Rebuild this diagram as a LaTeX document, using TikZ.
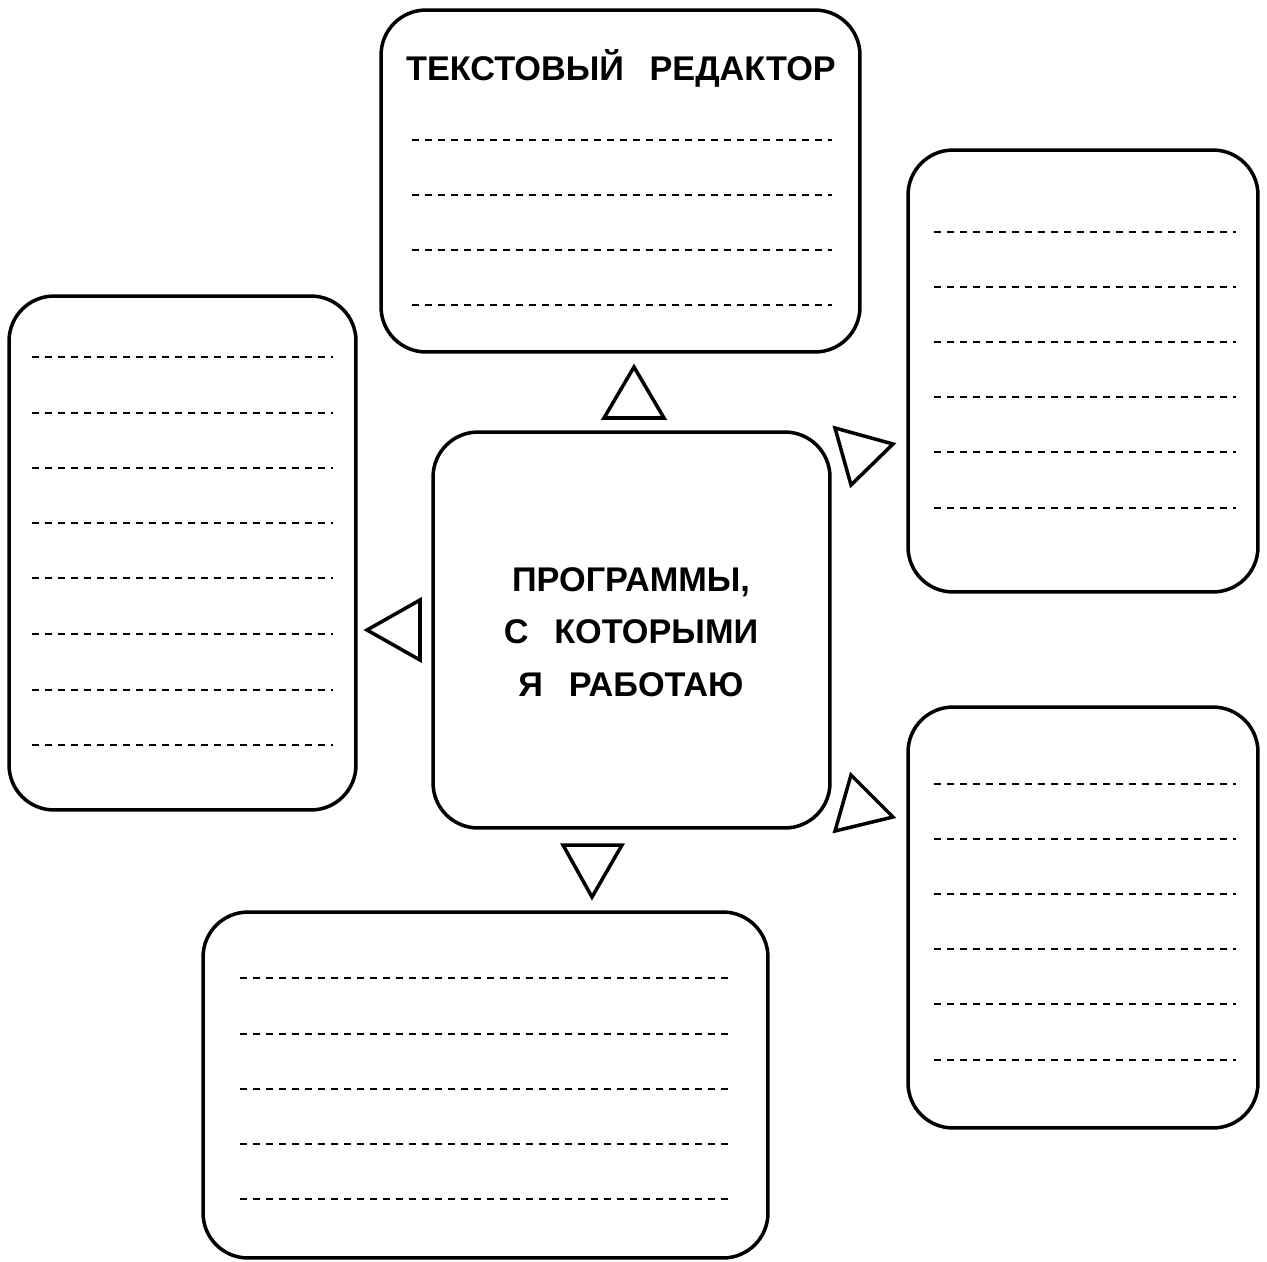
\documentclass[tikz,border=0pt]{standalone}
\usepackage{fontspec}
\setmainfont{Liberation Sans}
\usetikzlibrary{positioning}

\tikzset{
  card/.style={draw,line width=2pt,rounded corners=0.9cm,inner sep=0pt},
  ruled/.style={line width=1.3pt,dash pattern=on 4.2pt off 3.2pt},
  pointer/.style={draw,line width=2pt,line join=miter},
  caption/.style={font=\fontsize{19.5}{30}\selectfont\bfseries,align=center,inner sep=0pt}
}
\newcommand{\wgap}{\hspace{0.75em}}

\begin{document}
\begin{tikzpicture}[x=0.02cm,y=-0.02cm]
  \useasboundingbox (0,0) rectangle (1267,1261);
  % boxes
  \node[card,minimum width=9.58cm,minimum height=6.84cm] (editor) at (620.5,181) {};
  \node[card,minimum width=7.94cm,minimum height=7.92cm] (hub) at (631.5,630) {};
  \node[card,minimum width=7.0cm,minimum height=8.84cm] (upright) at (1083,371) {};
  \node[card,minimum width=7.0cm,minimum height=8.42cm] (lowright) at (1083,917.5) {};
  \node[card,minimum width=6.94cm,minimum height=10.28cm] (left) at (182.5,553) {};
  \node[card,minimum width=11.3cm,minimum height=6.92cm] (bottom) at (485.5,1085) {};
  % texts
  \node[caption,anchor=base] (editortitle) at (621,80) {ТЕКСТОВЫЙ\wgap РЕДАКТОР};
  \node[caption] (hubtitle) at (631,632) {ПРОГРАММЫ,\\С\wgap КОТОРЫМИ\\Я\wgap РАБОТАЮ};
  % lines to fill in
  \foreach \y in {140,195,250,305}
    \draw[ruled] (412,\y) -- (832,\y);
  \foreach \y in {232,287,342,397,452,508}
    \draw[ruled] (934,\y) -- (1236,\y);
  \foreach \y in {784,839,894,949,1004,1060}
    \draw[ruled] (934,\y) -- (1236,\y);
  \foreach \y in {357,413,468,523,578,634,690,745}
    \draw[ruled] (32,\y) -- (333,\y);
  \foreach \y in {978,1034,1089,1144,1199}
    \draw[ruled] (240,\y) -- (730,\y);
  % triangles
  \draw[pointer] (634,367) -- (604,418) -- (664,418) -- cycle;
  \draw[pointer] (835,428) -- (893,444) -- (851,485) -- cycle;
  \draw[pointer] (367,630) -- (420,600) -- (420,660) -- cycle;
  \draw[pointer] (563,845) -- (622,845) -- (592,897) -- cycle;
  \draw[pointer] (851,775) -- (893,817) -- (835,831) -- cycle;
\end{tikzpicture}
\end{document}
